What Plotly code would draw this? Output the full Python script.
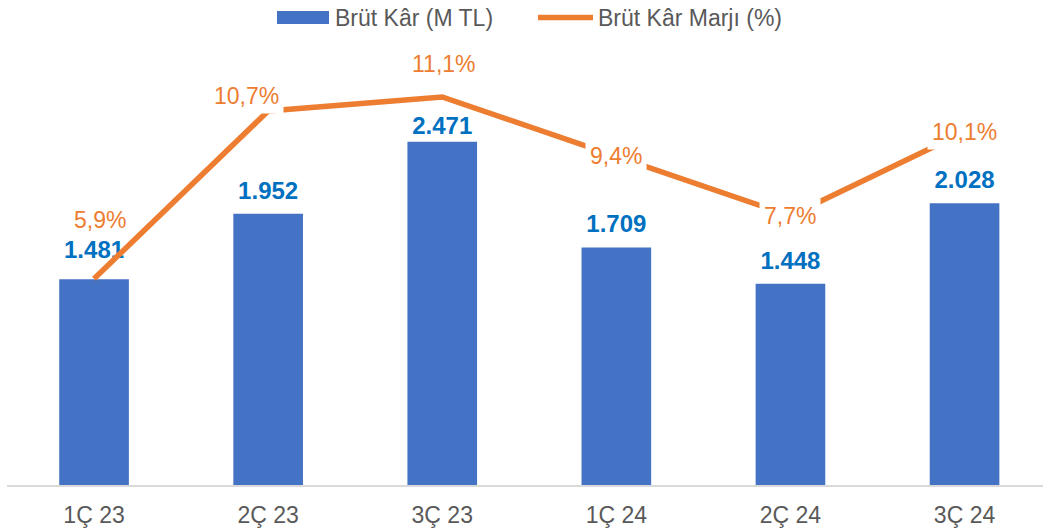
import plotly.graph_objects as go

# ---- data ----
categories = ["1Ç 23", "2Ç 23", "3Ç 23", "1Ç 24", "2Ç 24", "3Ç 24"]
gross_profit = [1481, 1952, 2471, 1709, 1448, 2028]          # M TL
gross_margin = [5.9, 10.7, 11.1, 9.4, 7.7, 10.1]             # %
series_names = ["Brüt Kâr (M TL)", "Brüt Kâr Marjı (%)"]

# ---- styles ----
BLUE = "#4472C4"
ORANGE = "#ED7D31"
LABEL_BLUE = "#0070C0"
GREY_TXT = "#595959"
FONT = "Liberation Sans, Arial, sans-serif"

W, H = 1043, 531
M_L, M_R, M_T, M_B = 7, 0, 45, 46
plot_w = W - M_L - M_R
plot_h = H - M_T - M_B

# label offsets in pixels (xshift, yshift) for margin labels
margin_label_shift = [(6, 59), (-22, 15), (2, 33), (0, 0), (0, 0), (0, 0)]
# distance (px) from bar top to bar label centre
bar_label_shift = [30, 25, 19, 25, 25, 25]


def fmt_int(v):
    return f"{v:,}".replace(",", ".")


def fmt_pct(v):
    return f"{v:.1f}".replace(".", ",") + "%"


fig = go.Figure()
fig.add_trace(go.Bar(
    x=categories, y=gross_profit, name=series_names[0],
    marker=dict(color=BLUE, line=dict(width=0)), width=0.4,
    showlegend=False, yaxis="y", hoverinfo="skip",
))
# bar value labels (drawn beneath the margin line); an invisible marker
# provides the pixel gap between bar top and label
fig.add_trace(go.Scatter(
    x=categories, y=gross_profit, yaxis="y",
    mode="markers+text",
    text=[f"<b>{fmt_int(v)}</b>" for v in gross_profit],
    textposition="top center",
    textfont=dict(family=FONT, size=24, color=LABEL_BLUE),
    marker=dict(size=[max(2 * (s - 18.5), 0.5) for s in bar_label_shift],
                color="rgba(0,0,0,0)", line=dict(width=0)),
    showlegend=False, hoverinfo="skip",
))
fig.add_trace(go.Scatter(
    x=categories, y=gross_margin, name=series_names[1],
    mode="lines", line=dict(color=ORANGE, width=5.5),
    showlegend=False, yaxis="y2",
))

annotations = []
for c, v, (dx, dy) in zip(categories, gross_margin, margin_label_shift):
    annotations.append(dict(
        x=c, y=v, xref="x", yref="y2", text=fmt_pct(v),
        showarrow=False, yanchor="middle", xshift=dx, yshift=dy,
        bgcolor="white", borderpad=4,
        font=dict(family=FONT, size=23, color=ORANGE),
    ))


# custom legend (pixel positions converted to paper coordinates)
def px_x(p):
    return (p - M_L) / plot_w


def px_y(p):
    return (H - M_B - p) / plot_h


shapes = [
    dict(type="rect", xref="paper", yref="paper",
         x0=px_x(277), x1=px_x(329), y0=px_y(24), y1=px_y(11),
         fillcolor=BLUE, line=dict(width=0)),
    dict(type="line", xref="paper", yref="paper",
         x0=px_x(538), x1=px_x(593), y0=px_y(17.5), y1=px_y(17.5),
         line=dict(color=ORANGE, width=5.5)),
]
annotations += [
    dict(x=px_x(333), y=px_y(18), xref="paper", yref="paper",
         text=series_names[0], showarrow=False, xanchor="left", yanchor="middle",
         font=dict(family=FONT, size=23, color=GREY_TXT)),
    dict(x=px_x(596), y=px_y(18), xref="paper", yref="paper",
         text=series_names[1], showarrow=False, xanchor="left", yanchor="middle",
         font=dict(family=FONT, size=23, color=GREY_TXT)),
]

bar_px_per_unit = 343.3 / 2471
pct_px_per_unit = 388.0 / 11.1

fig.update_layout(
    width=W, height=H,
    margin=dict(l=M_L, r=M_R, t=M_T, b=M_B, pad=0),
    paper_bgcolor="white", plot_bgcolor="white",
    showlegend=False,
    font=dict(family=FONT, color=GREY_TXT),
    xaxis=dict(
        type="category", range=[-0.5, -0.5 + plot_w / 174.1],
        showline=True, linecolor="#D9D9D9", linewidth=2,
        showgrid=False, zeroline=False, ticks="",
        tickfont=dict(family=FONT, size=23, color=GREY_TXT),
        ticklabelstandoff=8,
    ),
    yaxis=dict(range=[0, plot_h / bar_px_per_unit], visible=False),
    yaxis2=dict(range=[0, plot_h / pct_px_per_unit], visible=False,
                overlaying="y", side="right"),
    shapes=shapes,
    annotations=annotations,
)

fig.write_html(
    "out.html",
    config={"displayModeBar": False},
    post_script="document.body.style.margin='0px';document.body.style.overflow='hidden';",
)
